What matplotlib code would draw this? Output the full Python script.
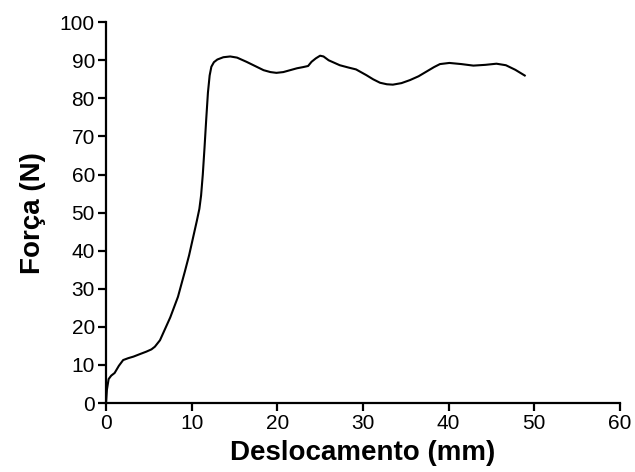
import numpy as np
import matplotlib.pyplot as plt

plt.rcParams['font.family'] = ['Liberation Sans', 'DejaVu Sans']

# deslocamento (mm) e forca (N)
desloc = [0.0, 0.1, 0.3, 0.6, 1.0, 1.5, 2.0, 2.6, 3.2, 4.0, 4.7, 5.3, 5.7,
          6.3, 6.9, 7.5, 8.4, 9.2, 9.7, 10.2, 10.6, 10.9, 11.1, 11.3, 11.5,
          11.7, 11.9, 12.1, 12.3, 12.6, 13.0, 13.7, 14.5, 15.3, 16.4, 17.4,
          18.4, 19.2, 19.9, 20.7, 21.5, 22.3, 23.0, 23.6, 24.0, 24.5, 25.0,
          25.4, 26.0, 27.3, 28.3, 29.2, 30.4, 31.2, 32.0, 32.8, 33.5, 34.5,
          35.5, 36.5, 37.4, 38.3, 39.0, 40.1, 41.5, 42.9, 44.3, 45.6, 46.7,
          47.8, 48.9]
forca = [0.0, 3.5, 6.3, 7.2, 7.9, 9.8, 11.3, 11.8, 12.2, 12.9, 13.5, 14.1,
         14.8, 16.5, 19.5, 22.5, 27.9, 34.5, 38.8, 43.8, 47.8, 51.0, 54.5,
         60.0, 67.0, 74.5, 81.5, 86.0, 88.3, 89.5, 90.2, 90.8, 91.0, 90.7,
         89.6, 88.5, 87.4, 86.9, 86.7, 86.9, 87.4, 87.9, 88.2, 88.5, 89.6,
         90.5, 91.2, 91.0, 90.0, 88.7, 88.1, 87.6, 86.1, 85.0, 84.1, 83.7,
         83.6, 84.0, 84.8, 85.8, 87.0, 88.2, 89.0, 89.3, 89.0, 88.6, 88.8,
         89.1, 88.7, 87.5, 86.0]

fig = plt.figure(figsize=(6.35, 4.72), dpi=100)
ax = fig.add_axes([0.167, 0.146, 0.809, 0.807])

ax.plot(desloc, forca, color='black', linewidth=1.5)

ax.set_xlim(0, 60)
ax.set_ylim(0, 100)
ax.set_xticks(np.arange(0, 61, 10))
ax.set_yticks(np.arange(0, 101, 10))

ax.spines['top'].set_visible(False)
ax.spines['right'].set_visible(False)
ax.spines['left'].set_linewidth(1.6)
ax.spines['bottom'].set_linewidth(1.6)
ax.tick_params(width=1.6, length=6, labelsize=15, pad=2)

ax.set_xlabel('Deslocamento (mm)', fontsize=20, fontweight='bold', labelpad=5)
ax.set_ylabel('Força (N)', fontsize=20, fontweight='bold', labelpad=10)

fig.savefig('out.png', dpi=100)
